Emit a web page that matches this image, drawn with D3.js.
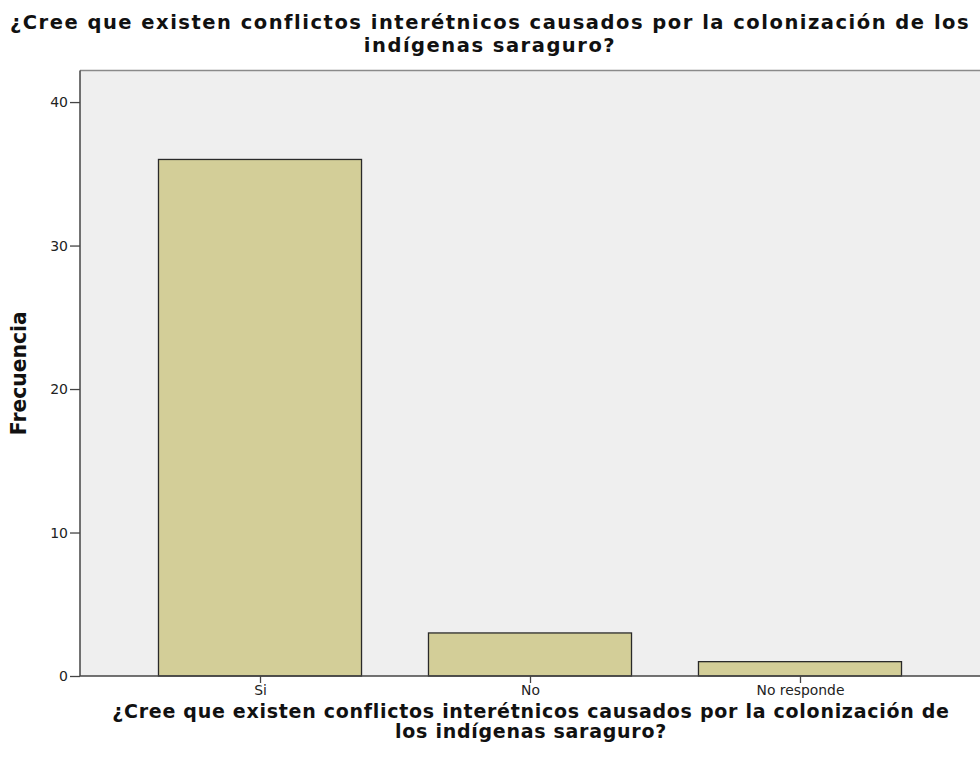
<!DOCTYPE html>
<html><head><meta charset="utf-8">
<script src="https://cdn.jsdelivr.net/npm/d3@7"></script>
<style>body{margin:0;background:#fff}svg{display:block}</style>
</head><body>
<svg id="c" width="980" height="773"></svg>
<script>
const categories = ["Si", "No", "No responde"];
const values = [36, 3, 1];
const yTicks = [0, 10, 20, 30, 40];
const titleLines = ["¿Cree que existen conflictos interétnicos causados por la colonización de los", "indígenas saraguro?"];
const xTitleLines = ["¿Cree que existen conflictos interétnicos causados por la colonización de", "los indígenas saraguro?"];
const yTitle = "Frecuencia";

const FONT = "DejaVu Sans, Verdana, sans-serif";
const svg = d3.select("#c");
const L = 80, R = 980, T = 70.5, B = 676;
const y = d3.scaleLinear().domain([0, 42.2]).range([B, T]);
const x = d3.scalePoint().domain(categories).range([L, R]).padding(0.6667);
const step = x.step(), bw = step * 0.752;

function measure(txt, weight, size) {
  const t = svg.append("text").attr("font-family", FONT).attr("font-weight", weight).attr("font-size", size).text(txt);
  const w = t.node().getComputedTextLength();
  t.remove();
  return w;
}
function fitSize(txt, weight, target) { return 100 * target / measure(txt, weight, 100); }
function fitSpacing(txt, weight, size, target) { return Math.max(0, (target - measure(txt, weight, size)) / (txt.length - 1)); }

svg.append("rect").attr("x", L).attr("y", T).attr("width", R - L).attr("height", B - T).attr("fill", "#efefef");
svg.append("line").attr("x1", L).attr("x2", R).attr("y1", T).attr("y2", T).attr("stroke", "#8a8a8a").attr("stroke-width", 1.5);

svg.selectAll("rect.bar").data(values).enter().append("rect").attr("class", "bar")
  .attr("x", (d, i) => x(categories[i]) - bw / 2)
  .attr("y", d => y(d))
  .attr("width", bw)
  .attr("height", d => y(0) - y(d))
  .attr("fill", "#d3ce98").attr("stroke", "#2a2a2a").attr("stroke-width", 1.3);

const tickSize = Math.min(14, fitSize("No responde", "normal", 88));

const ya = svg.append("g").attr("transform", `translate(${L},0)`)
  .call(d3.axisLeft(y).tickValues(yTicks).tickSize(10).tickPadding(2).tickFormat(d3.format("d")));
ya.select(".domain").attr("stroke", "#444").attr("stroke-width", 1.5).attr("d", `M0,${B}V${T}`);
ya.selectAll(".tick line").attr("stroke", "#444").attr("stroke-width", 1.3);
ya.selectAll(".tick text").attr("font-family", FONT).attr("font-size", 14).attr("fill", "#222");

const xa = svg.append("g").attr("transform", `translate(0,${B})`)
  .call(d3.axisBottom(x).tickSize(7).tickPadding(2));
xa.select(".domain").attr("stroke", "#444").attr("stroke-width", 1.5).attr("d", `M${L},0H${R}`);
xa.selectAll(".tick line").attr("stroke", "#444").attr("stroke-width", 1.3);
xa.selectAll(".tick text").attr("font-family", FONT).attr("font-size", tickSize).attr("fill", "#222");

const tSize = 19.5;
const tLs = fitSpacing(titleLines[0], "bold", tSize, 958);
const tt = svg.append("text").attr("text-anchor", "middle").attr("font-family", FONT)
  .attr("font-weight", "bold").attr("font-size", tSize).attr("letter-spacing", tLs).attr("fill", "#111");
titleLines.forEach((t, i) => tt.append("tspan").attr("x", 490).attr("y", 29 + i * 22.5).text(t));

const xSize = 19;
const xLs = fitSpacing(xTitleLines[0], "bold", xSize, 836);
const xt = svg.append("text").attr("text-anchor", "middle").attr("font-family", FONT)
  .attr("font-weight", "bold").attr("font-size", xSize).attr("letter-spacing", xLs).attr("fill", "#111");
xTitleLines.forEach((t, i) => xt.append("tspan").attr("x", 531).attr("y", 718 + i * 20).text(t));

const ySize = fitSize(yTitle, "bold", 124);
svg.append("text").attr("transform", `translate(26,${(T + B) / 2}) rotate(-90)`).attr("text-anchor", "middle")
  .attr("font-family", FONT).attr("font-weight", "bold").attr("font-size", ySize).attr("fill", "#111")
  .text(yTitle);
</script>
</body></html>
